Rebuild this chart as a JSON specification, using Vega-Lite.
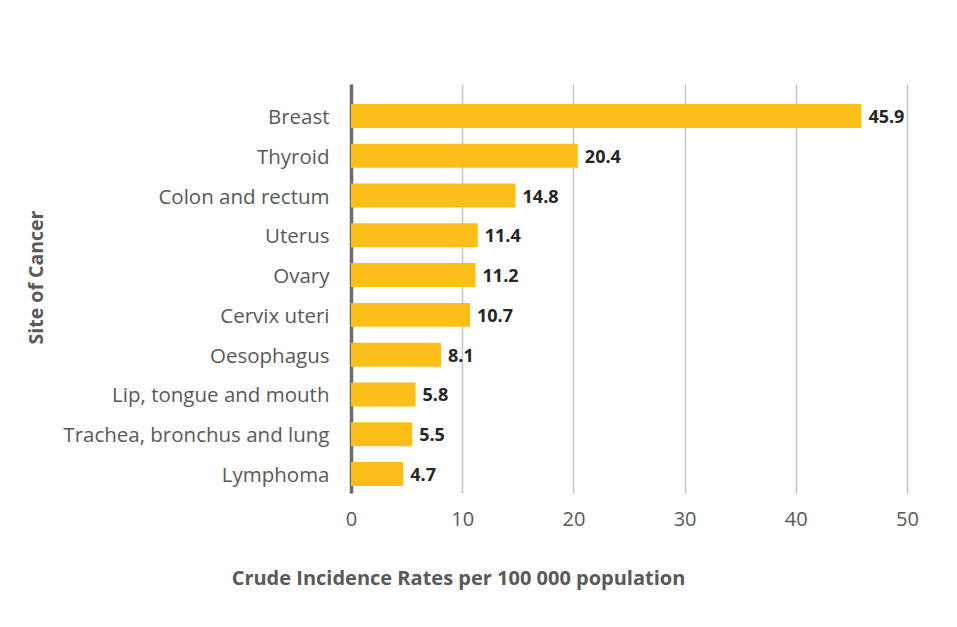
{
  "$schema": "https://vega.github.io/schema/vega-lite/v6.json",
  "width": 556,
  "height": 409,
  "autosize": {"type": "none"},
  "padding": {"left": 351, "top": 84, "right": 50, "bottom": 134},
  "background": "white",
  "config": {"view": {"stroke": null}, "font": "Open Sans"},
  "data": {
    "values": [
      {"site": "Breast", "rate": 45.9},
      {"site": "Thyroid", "rate": 20.4},
      {"site": "Colon and rectum", "rate": 14.8},
      {"site": "Uterus", "rate": 11.4},
      {"site": "Ovary", "rate": 11.2},
      {"site": "Cervix uteri", "rate": 10.7},
      {"site": "Oesophagus", "rate": 8.1},
      {"site": "Lip, tongue and mouth", "rate": 5.8},
      {"site": "Trachea, bronchus and lung", "rate": 5.5},
      {"site": "Lymphoma", "rate": 4.7}
    ]
  },
  "encoding": {
    "y": {
      "field": "site",
      "type": "nominal",
      "sort": null,
      "scale": {"paddingInner": 0.397, "paddingOuter": 0.34, "align": 0.74},
      "axis": {
        "title": "Site of Cancer",
        "titleFont": "Open Sans",
        "titleFontSize": 19.5,
        "titleFontWeight": "bold",
        "titleColor": "#595959",
        "titleX": -305,
        "titleY": 193,
        "titleAnchor": null,
        "labelFont": "Open Sans",
        "labelFontSize": 20.5,
        "labelColor": "#595959",
        "labelPadding": 22,
        "labelOffset": 2,
        "labelLimit": 0,
        "ticks": false,
        "domainColor": "#6b6b6b",
        "domainWidth": 3.5,
        "grid": false
      }
    },
    "x": {
      "field": "rate",
      "type": "quantitative",
      "scale": {"domain": [0, 50], "nice": false},
      "axis": {
        "title": "Crude Incidence Rates per 100 000 population",
        "values": [0, 10, 20, 30, 40, 50],
        "titleFont": "Open Sans",
        "titleFontSize": 20,
        "titleFontWeight": "bold",
        "titleColor": "#595959",
        "titleX": 107,
        "titleY": 75,
        "titleAnchor": null,
        "titleAlign": "center",
        "labelFont": "Open Sans",
        "labelFontSize": 20,
        "labelColor": "#595959",
        "labelPadding": 16,
        "labelFlush": false,
        "ticks": false,
        "domain": false,
        "grid": true,
        "gridColor": "#c4c4c4",
        "gridWidth": 1.5
      }
    }
  },
  "layer": [
    {"mark": {"type": "bar", "color": "#FCBF19"}},
    {
      "mark": {"type": "text", "align": "left", "baseline": "middle", "dx": 7, "dy": 2, "font": "Open Sans", "fontSize": 18, "fontWeight": "bold", "color": "#262626"},
      "encoding": {"text": {"field": "rate", "type": "quantitative", "format": ".1f"}}
    }
  ]
}
